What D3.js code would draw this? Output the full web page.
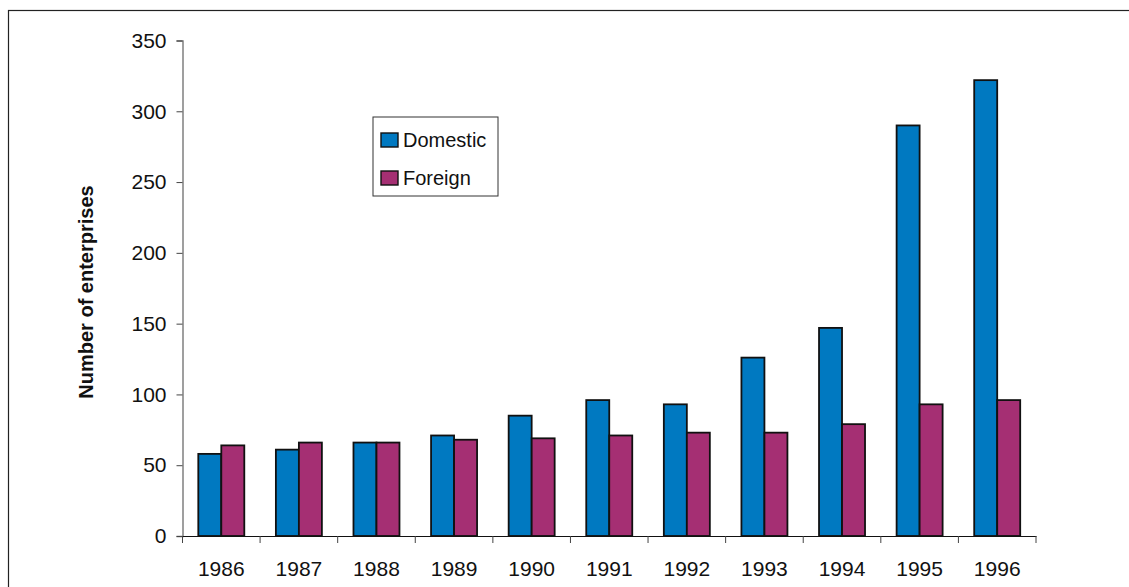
<!DOCTYPE html>
<html>
<head>
<meta charset="utf-8">
<script src="https://cdn.jsdelivr.net/npm/d3@7"></script>
<style>
  html, body { margin: 0; padding: 0; background: #fff; }
  svg { display: block; font-family: "Liberation Sans", Arial, sans-serif; }
</style>
</head>
<body>
<svg id="chart" width="1129" height="587"></svg>
<script>
const years = ["1986","1987","1988","1989","1990","1991","1992","1993","1994","1995","1996"];
const domestic = [58, 61, 66, 71, 85, 96, 93, 126, 147, 290, 322];
const foreign = [64, 66, 66, 68, 69, 71, 73, 73, 79, 93, 96];
const seriesNames = ["Domestic", "Foreign"];
const seriesColors = ["#0079C1", "#A52F73"];
const yTicks = [0, 50, 100, 150, 200, 250, 300, 350];
const yTitle = "Number of enterprises";

const svg = d3.select("#chart");

// outer frame
svg.append("rect").attr("x", 8.5).attr("y", 10.5).attr("width", 1140).attr("height", 600)
  .attr("fill", "none").attr("stroke", "#222").attr("stroke-width", 1.2);

const x0 = 182.5, x1 = 1036, yTop = 40.5, yBot = 536;
const x = d3.scaleBand().domain(years).range([x0, x1]).paddingInner(0).paddingOuter(0);
const y = d3.scaleLinear().domain([0, 350]).range([yBot, yTop]);
const inner = d3.scaleBand().domain(seriesNames).range([0, 46]);

const data = years.map((yr, i) => ({ year: yr, values: [domestic[i], foreign[i]] }));

// bars
const groups = svg.append("g").selectAll("g").data(data).join("g")
  .attr("transform", d => `translate(${x(d.year) + (x.bandwidth() - 46) / 2},0)`);
groups.selectAll("rect").data(d => d.values.map((v, j) => ({ v, j })))
  .join("rect")
  .attr("x", d => inner(seriesNames[d.j]))
  .attr("y", d => y(d.v))
  .attr("width", inner.bandwidth())
  .attr("height", d => y(0) - y(d.v))
  .attr("fill", d => seriesColors[d.j])
  .attr("stroke", "#111").attr("stroke-width", 1.8);

// y axis
const yAxis = d3.axisLeft(y).tickValues(yTicks).tickSize(6).tickPadding(10);
const gy = svg.append("g").attr("transform", `translate(${x0},0)`).call(yAxis);
gy.select(".domain").attr("stroke", "#777").attr("stroke-width", 1.4);
gy.selectAll(".tick line").attr("stroke", "#444");
gy.selectAll(".tick text").attr("font-size", 21).attr("fill", "#111")
  .attr("font-family", "'Liberation Sans', Arial, sans-serif");

// x axis
const xAxis = d3.axisBottom(x).tickSize(0).tickPadding(25);
const gx = svg.append("g").attr("transform", `translate(0,${yBot})`).call(xAxis);
gx.select(".domain").attr("stroke", "#111").attr("stroke-width", 1.2);
gx.selectAll(".tick text").attr("font-size", 21).attr("fill", "#111")
  .attr("font-family", "'Liberation Sans', Arial, sans-serif");
// category separators
svg.append("g").selectAll("line").data(years.concat(["end"])).join("line")
  .attr("x1", (d, i) => i < years.length ? x(d) : x1)
  .attr("x2", (d, i) => i < years.length ? x(d) : x1)
  .attr("y1", yBot).attr("y2", yBot + 7)
  .attr("stroke", "#444").attr("stroke-width", 1);

// y title
svg.append("text")
  .attr("transform", `translate(93,292) rotate(-90)`)
  .attr("text-anchor", "middle")
  .attr("font-size", 20).attr("font-weight", "bold").attr("fill", "#111")
  .text(yTitle);

// legend
const lg = svg.append("g").attr("transform", "translate(373,117)");
lg.append("rect").attr("x", 0).attr("y", 0).attr("width", 125).attr("height", 79)
  .attr("fill", "#fff").attr("stroke", "#333").attr("stroke-width", 1);
seriesNames.forEach((name, i) => {
  const row = lg.append("g").attr("transform", `translate(8,${16 + i * 38})`);
  row.append("rect").attr("width", 17).attr("height", 14)
    .attr("fill", seriesColors[i]).attr("stroke", "#111").attr("stroke-width", 1.4);
  row.append("text").attr("x", 22).attr("y", 14).attr("font-size", 20).attr("fill", "#111")
    .text(name);
});
</script>
</body>
</html>
